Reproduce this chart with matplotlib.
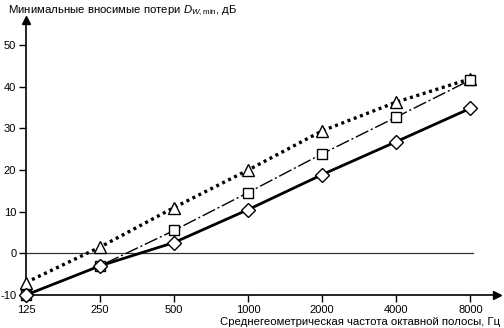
import numpy as np
import matplotlib.pyplot as plt

plt.rcParams['font.family'] = ['Liberation Sans', 'DejaVu Sans']
plt.rcParams['mathtext.fontset'] = 'custom'
plt.rcParams['mathtext.rm'] = 'Liberation Sans'
plt.rcParams['mathtext.it'] = 'Liberation Sans:italic'
plt.rcParams['axes.unicode_minus'] = False

# Octave band centre frequencies, Hz
freq_labels = ['125', '250', '500', '1000', '2000', '4000', '8000']

# Minimum insertion loss, dB
loss_triangle = [-7.0, 1.5, 11.0, 20.0, 29.4, 36.3, 41.9]
loss_square = [-10.0, -3.0, 5.5, 14.6, 23.9, 32.7, 41.6]
loss_diamond = [-10.0, -3.0, 2.6, 10.5, 18.9, 26.8, 34.8]

x = np.arange(len(freq_labels))

fig = plt.figure(figsize=(5.04, 3.28), dpi=100)
ax = fig.add_axes([26 / 504, 1 - 295 / 328, 471 / 504, 275 / 328])

ax.axhline(0, xmin=0, xmax=6.04 / 6.36, color='#333333', lw=0.9, zorder=1)

mk = dict(markerfacecolor='white', markeredgecolor='black', markeredgewidth=1.0,
          color='black', clip_on=False, zorder=3)
ax.plot(x, loss_triangle, ls=(0, (0.9, 1.1)), lw=2.4, marker='^', ms=9, **mk)
ax.plot(x, loss_square, ls=(0, (10, 2, 1.5, 2)), lw=1.0, marker='s', ms=7.5, **mk)
ax.plot(x, loss_diamond, ls='-', lw=2.0, marker='D', ms=7, **mk)

ax.set_xlim(0, 6.36)
ax.set_ylim(-10, 56)
ax.set_xticks(x)
ax.set_xticklabels(freq_labels)
ax.set_yticks([-10, 0, 10, 20, 30, 40, 50])
ax.tick_params(direction='out', length=5, width=1, labelsize=8, pad=2)

for side in ['top', 'right']:
    ax.spines[side].set_visible(False)
for side in ['left', 'bottom']:
    ax.spines[side].set_linewidth(1.2)

# arrowheads on the axes
ax.plot(1, 0, '>k', ms=6, transform=ax.transAxes, clip_on=False)
ax.plot(0, 1, '^k', ms=6, transform=ax.transAxes, clip_on=False)

fig.text(8 / 504, 1 - 11 / 328, r'Минимальные вносимые потери $D_{W,\mathrm{min}}$, дБ',
         fontsize=8.2, va='center', ha='left')
fig.text(500 / 504, 1 - 322 / 328, 'Среднегеометрическая частота октавной полосы, Гц',
         fontsize=8.2, va='center', ha='right')

fig.savefig('out.png', dpi=100)
